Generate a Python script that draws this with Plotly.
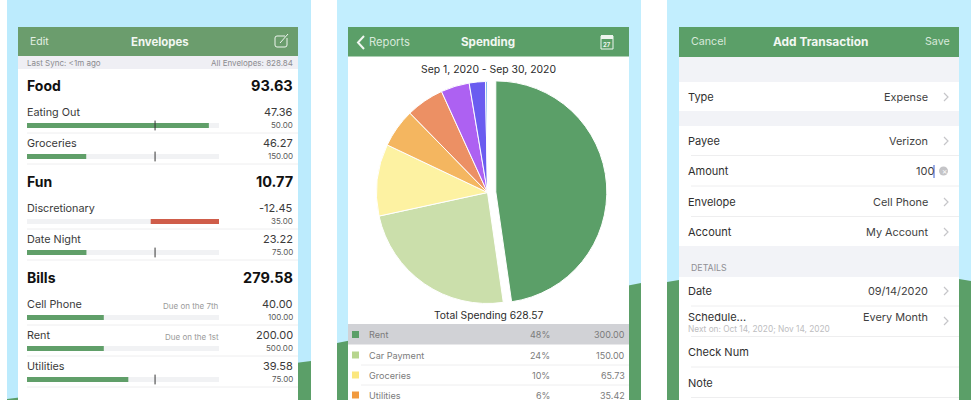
import plotly.graph_objects as go

# ---------- data ----------
group_names = ["Food", "Fun", "Bills", "Savings"]
group_totals = ["93.63", "10.77", "279.58", "396.86"]
group_y = [85.5, 181.5, 277.5, 403.5]

env_names = ["Eating Out", "Groceries", "Discretionary", "Date Night", "Cell Phone", "Rent", "Utilities"]
env_remaining = [47.36, 46.27, -12.45, 23.22, 40.00, 200.00, 39.58]
env_budget = [50.00, 150.00, 35.00, 75.00, 100.00, 500.00, 75.00]
env_due = ["", "", "", "", "Due on the 7th", "Due on the 1st", ""]
env_y = [112, 143, 208, 239, 304, 335, 366]
env_marker = [True, True, False, True, False, False, True]
month_fraction = 0.667

pie_labels = ["Rent", "Car Payment", "Groceries", "Utilities", "Cell Phone", "Eating Out", "Date Night", "Other"]
pie_values = [300.00, 150.00, 65.73, 35.42, 34.70, 26.10, 14.80, 1.82]
pie_colors = ["#5b9f68", "#cbdfab", "#fdf2a2", "#f4b660", "#ec9064", "#ad61f2", "#6a5cf0", "#7db4ee"]
pie_pull = [0.075, 0, 0, 0, 0, 0, 0, 0]

legend_names = ["Rent", "Car Payment", "Groceries", "Utilities"]
legend_pct = ["48%", "24%", "10%", "6%"]
legend_vals = ["300.00", "150.00", "65.73", "35.42"]
legend_colors = ["#5b9f68", "#b7d58e", "#fbe77f", "#f19a3e"]
legend_y = [334.5, 355, 375, 395]

form_labels = ["Type", "Payee", "Amount", "Envelope", "Account", "Date", "Check Num", "Note"]
form_y = [97, 141, 171, 202, 232, 291, 352, 383]
form_values = ["Expense", "Verizon", "", "Cell Phone", "My Account", "09/14/2020", "", ""]
form_chevron = [True, True, False, True, True, True, False, False]

# ---------- helpers ----------
FONT = "Inter, 'Open Sans', sans-serif"
W, H = 980, 400
shapes = []
annots = []


def rect(x0, y0, x1, y1, c):
    shapes.append(dict(type="rect", x0=x0, y0=y0, x1=x1, y1=y1, fillcolor=c, line_width=0, layer="below"))


def path(d, fill=None, line=None, lw=1.0):
    shapes.append(dict(type="path", path=d, fillcolor=fill or "rgba(0,0,0,0)",
                       line=dict(color=line or "rgba(0,0,0,0)", width=lw if line else 0), layer="below"))


def text(x, y, s, size=11, color="#2b2b2b", anchor="left", bold=False):
    nudge = {"left": -1, "right": 1, "center": 0}[anchor]
    annots.append(dict(x=x + nudge, y=y, xref="x", yref="y", text=f"<b>{s}</b>" if bold else s, showarrow=False,
                       xanchor=anchor, yanchor="middle", borderpad=0,
                       font=dict(family=FONT, size=size, color=color)))


def hline(x0, x1, y, c="#eeeeef"):
    shapes.append(dict(type="line", x0=x0, x1=x1, y0=y, y1=y, line=dict(color=c, width=1), layer="below"))


def chevron(x, y, c="#c6c6c9"):
    path(f"M {x-2} {y-4} L {x+2} {y} L {x-2} {y+4}", line=c, lw=1.2)


GREEN = "#5b9f68"

# ---------- phone backgrounds ----------
rect(7, 0, 311, 400, "#bcebfd")
rect(337, 0, 641, 400, "#c2eefe")
rect(667, 0, 971, 400, "#c2eefe")
path("M 7 400 L 7 399 L 311 361 L 311 400 Z", fill=GREEN)
path("M 337 400 L 337 343 L 641 283 L 641 400 Z", fill=GREEN)
path("M 667 400 L 667 282 L 679 280 L 959 279 L 971 281 L 971 400 Z", fill=GREEN)

# ---------- left panel ----------
rect(18, 27, 298, 400, "#ffffff")
rect(18, 27, 298, 56, "#6b9d6d")
rect(18, 56, 298, 69, "#efeff4")
text(30, 41.5, "Edit", 10.5, "#e4efe4")
text(160, 41.5, "Envelopes", 11.4, "#f2f7f2", "center", True)
path("M 285 36 L 277 36 Q 275 36 275 38 L 275 45 Q 275 47 277 47 L 285 47 Q 287 47 287 45 L 287 38", line="#eef5ee", lw=1)
path("M 280 43 L 288 34", line="#eef5ee", lw=1)
text(27, 63, "Last Sync: &lt;1m ago", 8, "#8b8b8f")
text(293, 63, "All Envelopes: 828.84", 8, "#8b8b8f", "right")

for n, t, y in zip(group_names, group_totals, group_y):
    text(27, y, n, 14, "#111111", bold=True)
    text(293, y, t, 14.5, "#111111", "right", True)

for n, r, b, d, y in zip(env_names, env_remaining, env_budget, env_due, env_y):
    text(27, y, n, 10.8, "#3a3a3a")
    text(293, y, f"{r:.2f}", 11, "#3a3a3a", "right")
    text(293, y + 13, f"{b:.2f}", 8, "#5a5a5a", "right")
    if d:
        text(219, y + 2, d, 8, "#9a9a9a", "right")
    hline(27, 298, y + 21)

bar_y = [y + 13.5 for y in env_y]
fills = [abs(r) / b for r, b in zip(env_remaining, env_budget)]
bases = [1 - f if r < 0 else 0 for f, r in zip(fills, env_remaining)]
colors = ["#cf5d4a" if r < 0 else "#609f69" for r in env_remaining]

# ---------- middle panel ----------
rect(348, 27, 629, 400, "#ffffff")
rect(348, 27, 629, 56.5, GREEN)
path("M 364 36 L 358 42.5 L 364 49", line="#f2f7f2", lw=2)
text(368.5, 42, "Reports", 11.2, "#d8e9da")
text(488, 42, "Spending", 11.6, "#f2f7f2", "center", True)
path("M 601 36 L 613 36 L 613 49 L 601 49 Z", line="#eef5ee", lw=1)
rect(601, 35, 613, 39, "#eef5ee")
text(607, 44, "27", 6, "#eef5ee", "center", True)
text(488, 69, "Sep 1, 2020 - Sep 30, 2020", 10.4, "#2b2b2b", "center")
text(488.5, 315, "Total Spending 628.57", 10.3, "#2b2b2b", "center")
rect(348, 324, 629, 344.5, "#d1d2d6")
for n, p, v, c, y in zip(legend_names, legend_pct, legend_vals, legend_colors, legend_y):
    rect(352, y - 3.5, 359, y + 3.5, c)
    text(368.5, y, n, 9.1, "#7b7b7b")
    text(550, y, p, 9, "#7b7b7b", "right")
    text(625, y, v, 9, "#7b7b7b", "right")
    if y > 340:
        hline(361, 629, y + 10)

# ---------- right panel ----------
rect(679, 27, 959, 400, "#ffffff")
rect(679, 27, 959, 57, GREEN)
rect(679, 57, 959, 82, "#f2f3f7")
rect(679, 111, 959, 126, "#f2f3f7")
rect(679, 246, 959, 277, "#f2f3f7")
text(691, 41, "Cancel", 10.7, "#d8e9da")
text(820.5, 41, "Add Transaction", 11.9, "#f2f7f2", "center", True)
text(950, 41, "Save", 10.7, "#d8e9da", "right")
for n, v, c, y in zip(form_labels, form_values, form_chevron, form_y):
    text(687.5, y, n, 11, "#2f2f2f")
    if v:
        text(928, y, v, 10.9, "#3f3f3f", "right")
    if c:
        chevron(946, y)
for y in [155.5, 186, 216.5, 306, 336.5, 367, 397.5]:
    hline(691, 959, y)
text(691, 267, "DETAILS", 8.8, "#8f8f94")
text(934, 171, "100", 11, "#3f3f3f", "right")
shapes.append(dict(type="line", x0=934, x1=934, y0=165, y1=178, line=dict(color="#3a5fd0", width=1), layer="below"))
shapes.append(dict(type="circle", x0=939, x1=948, y0=166.5, y1=175.5, fillcolor="#c4c4c7", line_width=0, layer="below"))
text(944.5, 171, "×", 8, "#ffffff", "center")
text(687.5, 317, "Schedule...", 11, "#2f2f2f")
text(687.5, 329, "Next on: Oct 14, 2020; Nov 14, 2020", 8.3, "#bdbdc0")
text(928, 317, "Every Month", 10.9, "#3f3f3f", "right")
chevron(946, 321)

# ---------- figure ----------
fig = go.Figure()
fig.add_trace(go.Bar(orientation="h", x=[1] * len(env_names), y=bar_y, width=5, xaxis="x2", yaxis="y",
                     marker=dict(color="#f1f2f4", line_width=0), hoverinfo="skip"))
fig.add_trace(go.Bar(orientation="h", x=fills, base=bases, y=bar_y, width=5, xaxis="x2", yaxis="y",
                     marker=dict(color=colors, line_width=0), text=env_names, hoverinfo="text", textposition="none"))
fig.add_trace(go.Scatter(x=[month_fraction for m in env_marker if m],
                         y=[y for y, m in zip(bar_y, env_marker) if m], xaxis="x2", yaxis="y", mode="markers",
                         marker=dict(symbol="line-ns", size=7, line=dict(color="#333333", width=1)), hoverinfo="skip"))

cx, cy, r = 487.5, 192.5, 111
half = r * (1 + max(pie_pull))
fig.add_trace(go.Pie(labels=pie_labels, values=pie_values, pull=pie_pull, sort=False, direction="clockwise",
                     rotation=0, textinfo="none", showlegend=False,
                     marker=dict(colors=pie_colors, line=dict(color="#ffffff", width=1)),
                     domain=dict(x=[(cx - half) / W, (cx + half) / W], y=[1 - (cy + half) / H, 1 - (cy - half) / H])))

fig.update_layout(
    width=W, height=H, autosize=False, margin=dict(l=0, r=0, t=0, b=0),
    paper_bgcolor="#ffffff", plot_bgcolor="rgba(0,0,0,0)", showlegend=False, barmode="overlay",
    xaxis=dict(range=[0, W], visible=False, fixedrange=True, domain=[0, 1]),
    xaxis2=dict(range=[0, 1], visible=False, fixedrange=True, domain=[27 / W, 219 / W], anchor="y"),
    yaxis=dict(range=[H, 0], visible=False, fixedrange=True, domain=[0, 1]),
    shapes=shapes, annotations=annots,
)
fig.write_html("out.html", config=dict(displayModeBar=False),
               post_script="document.body.style.margin='0';document.body.style.overflow='hidden';")
